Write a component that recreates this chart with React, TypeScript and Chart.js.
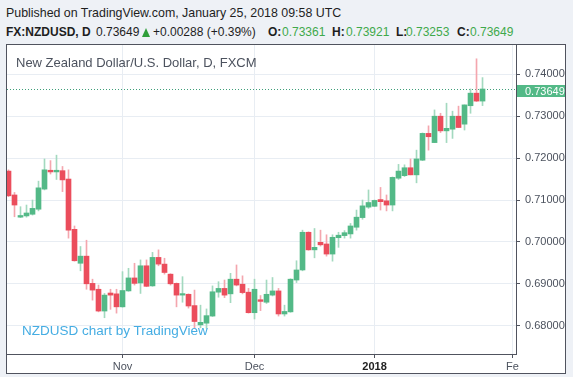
import React, { useEffect, useRef } from "react";
import { Chart, registerables } from "chart.js";

Chart.register(...registerables);

// ---- Data (daily candles, FX:NZDUSD, Oct 2017 – Jan 25 2018) ----
const opens = [
  0.7169, 0.7112, 0.7059, 0.7062, 0.7066, 0.7078, 0.7126, 0.7171, 0.7167, 0.7170,
  0.7150, 0.7030, 0.6949, 0.6966, 0.6901, 0.6887, 0.6835, 0.6878, 0.6876, 0.6845,
  0.6883, 0.6914, 0.6902, 0.6943, 0.6895, 0.6963, 0.6947, 0.6923, 0.6901, 0.6873,
  0.6875, 0.6848, 0.6802, 0.6806, 0.6823, 0.6880, 0.6889, 0.6876, 0.6911, 0.6899,
  0.6880, 0.6831, 0.6862, 0.6856, 0.6873, 0.6883, 0.6828, 0.6833, 0.6909, 0.6933,
  0.7023, 0.6981, 0.6999, 0.6995, 0.6971, 0.7010, 0.7015, 0.7019, 0.7035, 0.7058,
  0.7083, 0.7085, 0.7101, 0.7098, 0.7088, 0.7152, 0.7158, 0.7177, 0.7160, 0.7195,
  0.7259, 0.7237, 0.7300, 0.7265, 0.7269, 0.7300, 0.7281, 0.7325, 0.7355, 0.73361,
];
const highs = [
  0.7172, 0.7118, 0.7084, 0.7088, 0.7100, 0.7145, 0.7198, 0.7194, 0.7207, 0.7180,
  0.7172, 0.7038, 0.6989, 0.7004, 0.6911, 0.6897, 0.6877, 0.6887, 0.6887, 0.6929,
  0.6937, 0.6949, 0.6957, 0.6957, 0.6975, 0.6981, 0.6961, 0.6924, 0.6902, 0.6917,
  0.6876, 0.6885, 0.6849, 0.6840, 0.6895, 0.6905, 0.6909, 0.6925, 0.6945, 0.6919,
  0.6889, 0.6911, 0.6872, 0.6909, 0.6915, 0.6889, 0.6849, 0.6912, 0.6955, 0.7028,
  0.7024, 0.7032, 0.7028, 0.7017, 0.7017, 0.7023, 0.7027, 0.7044, 0.7076, 0.7100,
  0.7124, 0.7100, 0.7130, 0.7112, 0.7155, 0.7185, 0.7184, 0.7198, 0.7219, 0.7260,
  0.7277, 0.7315, 0.7307, 0.7331, 0.7312, 0.7324, 0.7327, 0.7365, 0.7437, 0.73921,
];
const lows = [
  0.7108, 0.7060, 0.7058, 0.7059, 0.7064, 0.7074, 0.7124, 0.7162, 0.7149, 0.7120,
  0.7009, 0.6954, 0.6931, 0.6887, 0.6861, 0.6833, 0.6819, 0.6839, 0.6830, 0.6844,
  0.6882, 0.6897, 0.6877, 0.6893, 0.6894, 0.6943, 0.6923, 0.6897, 0.6845, 0.6856,
  0.6842, 0.6794, 0.6795, 0.6794, 0.6822, 0.6868, 0.6867, 0.6855, 0.6895, 0.6876,
  0.6830, 0.6816, 0.6836, 0.6853, 0.6871, 0.6823, 0.6823, 0.6832, 0.6903, 0.6931,
  0.6980, 0.6962, 0.6990, 0.6966, 0.6954, 0.6987, 0.7009, 0.7009, 0.7028, 0.7054,
  0.7080, 0.7084, 0.7076, 0.7074, 0.7074, 0.7149, 0.7156, 0.7160, 0.7141, 0.7194,
  0.7219, 0.7237, 0.7261, 0.7237, 0.7247, 0.7273, 0.7267, 0.7307, 0.7335, 0.73253,
];
const closes = [
  0.7110, 0.7088, 0.7063, 0.7069, 0.7080, 0.7129, 0.7172, 0.7167, 0.7171, 0.7148,
  0.7028, 0.6955, 0.6966, 0.6900, 0.6885, 0.6835, 0.6873, 0.6873, 0.6845, 0.6884,
  0.6914, 0.6901, 0.6943, 0.6894, 0.6963, 0.6947, 0.6927, 0.6900, 0.6873, 0.6876,
  0.6847, 0.6810, 0.6808, 0.6824, 0.6881, 0.6889, 0.6873, 0.6911, 0.6897, 0.6879,
  0.6831, 0.6887, 0.6858, 0.6875, 0.6883, 0.6828, 0.6834, 0.6911, 0.6933, 0.7023,
  0.6981, 0.6987, 0.6993, 0.6971, 0.7011, 0.7016, 0.7022, 0.7038, 0.7059, 0.7086,
  0.7094, 0.7099, 0.7096, 0.7088, 0.7154, 0.7169, 0.7177, 0.7160, 0.7198, 0.7259,
  0.7251, 0.7300, 0.7265, 0.7271, 0.7300, 0.7273, 0.7327, 0.7355, 0.73361, 0.73649,
];

const xTickIndex = [19, 41, 61, 84];
const xTickLabels = ["Nov", "Dec", "2018", "Fe"];
const yTickValues = [0.68, 0.69, 0.7, 0.71, 0.72, 0.73, 0.74];
const lastPrice = 0.73649;

const FONT = '"Liberation Sans", Arial, sans-serif';
const UP = "#53b987";
const DOWN = "#eb4d5c";
const UP_WICK = "#a3d9bf";
const DOWN_WICK = "#f4a6ae";
const AXIS_TEXT = "#4c525e";
const GRID = "#e8edf3";
const AXIS_LINE = "#50535e";

const priceLinePlugin = {
  id: "priceLine",
  beforeDatasetsDraw(chart: any) {
    const { ctx, chartArea } = chart;
    const y = Math.round(chart.scales.y.getPixelForValue(lastPrice)) + 0.5;
    ctx.save();
    ctx.strokeStyle = "#3f9f7a";
    ctx.lineWidth = 1;
    ctx.setLineDash([1, 2]);
    ctx.beginPath();
    ctx.moveTo(chartArea.left, y);
    ctx.lineTo(chartArea.right, y);
    ctx.stroke();
    ctx.restore();
  },
  afterDraw(chart: any) {
    const { ctx, chartArea, width } = chart;
    const y = Math.round(chart.scales.y.getPixelForValue(lastPrice));
    ctx.save();
    ctx.fillStyle = UP;
    ctx.fillRect(chartArea.right + 1, y - 4, width - chartArea.right - 1, 12);
    ctx.fillStyle = "#ffffff";
    ctx.font = `11px ${FONT}`;
    ctx.textBaseline = "middle";
    ctx.textAlign = "left";
    ctx.fillText(lastPrice.toFixed(5), chartArea.right + 9, y + 2.5);
    ctx.restore();
  },
};

export default function App() {
  const ref = useRef<HTMLCanvasElement>(null);

  useEffect(() => {
    document.body.style.margin = "0";
    const idx = opens.map((_, i) => i);
    const bodyColors = idx.map((i) => (closes[i] >= opens[i] ? UP : DOWN));
    const wickColors = idx.map((i) => (closes[i] >= opens[i] ? UP_WICK : DOWN_WICK));
    const chart = new Chart(ref.current as HTMLCanvasElement, {
      type: "bar",
      data: {
        datasets: [
          {
            data: idx.map((i) => ({ x: i, y: [opens[i], closes[i]] })) as any,
            backgroundColor: bodyColors,
            borderWidth: 0,
            barThickness: 5,
            minBarLength: 1.5,
            grouped: false,
            order: 0,
          },
          {
            data: idx.map((i) => ({ x: i, y: [lows[i], highs[i]] })) as any,
            backgroundColor: wickColors,
            borderWidth: 0,
            barThickness: 1,
            grouped: false,
            order: 1,
          },
        ],
      },
      options: {
        animation: false,
        responsive: false,
        maintainAspectRatio: false,
        layout: { padding: 0 },
        plugins: { legend: { display: false }, tooltip: { enabled: false } },
        scales: {
          x: {
            type: "linear",
            min: -0.25,
            max: 84.58,
            offset: false,
            afterBuildTicks: (s: any) => {
              s.ticks = xTickIndex.map((v) => ({ value: v }));
            },
            afterFit: (s: any) => {
              s.height = 19;
              s.paddingLeft = 0;
              s.paddingRight = 0;
              s.paddingTop = 0;
              s.paddingBottom = 0;
            },
            ticks: {
              autoSkip: false,
              maxRotation: 0,
              padding: 2,
              color: (c: any) => (c.index === 2 ? "#222" : AXIS_TEXT),
              font: (c: any) => ({ family: FONT, size: 11, weight: c.index === 2 ? "bold" : "normal" }),
              callback: (_v: any, i: number) => xTickLabels[i],
            },
            grid: { offset: false, color: GRID, tickColor: AXIS_LINE, tickLength: 4, lineWidth: 1 },
            border: { display: true, color: AXIS_LINE, width: 1 },
          },
          y: {
            type: "linear",
            position: "right",
            min: 0.673246,
            max: 0.746993,
            afterBuildTicks: (s: any) => {
              s.ticks = yTickValues.map((v) => ({ value: v }));
            },
            afterFit: (s: any) => {
              s.width = 49;
              s.paddingTop = 0;
              s.paddingBottom = 0;
              s.paddingLeft = 0;
              s.paddingRight = 0;
            },
            ticks: {
              autoSkip: false,
              padding: 5,
              color: AXIS_TEXT,
              font: { family: FONT, size: 11 },
              callback: (v: any) => Number(v).toFixed(5),
            },
            grid: { color: GRID, tickColor: AXIS_LINE, tickLength: 4, lineWidth: 1 },
            border: { display: true, color: AXIS_LINE, width: 1 },
          },
        },
      } as any,
      plugins: [priceLinePlugin],
    });
    return () => chart.destroy();
  }, []);

  const abs = (left: number, top: number, extra: any = {}) => ({
    position: "absolute" as const,
    left,
    top,
    whiteSpace: "nowrap" as const,
    lineHeight: "12px",
    fontSize: 12,
    ...extra,
  });
  const green = "#3fa94b";

  return (
    <div
      style={{
        position: "fixed",
        left: 0,
        top: 0,
        width: 573,
        height: 377,
        background: "#eef1f6",
        overflow: "hidden",
        fontFamily: FONT,
        color: "#1e1e1e",
      }}
    >
      <div style={abs(6, 7, { fontSize: 12.4 })}>Published on TradingView.com, January 25, 2018 09:58 UTC</div>
      <div style={abs(6, 26, { fontWeight: "bold" })}>FX:NZDUSD, D</div>
      <div style={abs(96, 26)}>0.73649</div>
      <div
        style={{
          position: "absolute",
          left: 142,
          top: 28,
          width: 0,
          height: 0,
          borderLeft: "4.5px solid transparent",
          borderRight: "4.5px solid transparent",
          borderBottom: `9px solid #2f9e3a`,
        }}
      />
      <div style={abs(153, 26)}>+0.00288 (+0.39%)</div>
      <div style={abs(268, 26, { fontWeight: "bold" })}>O:</div>
      <div style={abs(282, 26, { color: green })}>0.73361</div>
      <div style={abs(332, 26, { fontWeight: "bold" })}>H:</div>
      <div style={abs(346, 26, { color: green })}>0.73921</div>
      <div style={abs(396, 26, { fontWeight: "bold" })}>L:</div>
      <div style={abs(406, 26, { color: green })}>0.73253</div>
      <div style={abs(457, 26, { fontWeight: "bold" })}>C:</div>
      <div style={abs(470, 26, { color: green })}>0.73649</div>

      <div
        style={{
          position: "absolute",
          left: 6,
          top: 44,
          width: 560,
          height: 330,
          boxSizing: "border-box",
          border: `1px solid ${AXIS_LINE}`,
          background: "#ffffff",
        }}
      >
        <canvas ref={ref} width={558} height={328} style={{ display: "block", width: 558, height: 328 }} />
        <div style={abs(9, 10, { fontSize: 13, lineHeight: "15px", color: "#4c525e" })}>
          New Zealand Dollar/U.S. Dollar, D, FXCM
        </div>
        <div style={abs(15, 279, { fontSize: 13.5, lineHeight: "13.5px", color: "#45ade3" })}>
          NZDUSD chart by TradingView
        </div>
      </div>
    </div>
  );
}
